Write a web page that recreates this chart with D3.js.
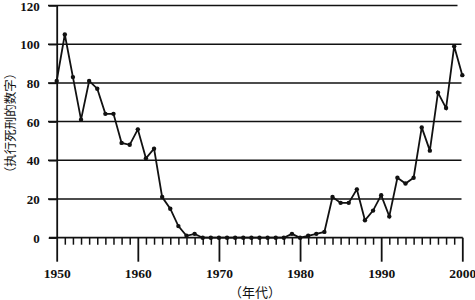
<!DOCTYPE html>
<html>
<head>
<meta charset="utf-8">
<script src="https://cdn.jsdelivr.net/npm/d3@7"></script>
<style>
  html, body { margin: 0; padding: 0; background: #fff; }
  svg { display: block; }
</style>
</head>
<body>
<script>
const years = d3.range(1950, 2001);
const executions = [81, 105, 83, 61, 81, 77, 64, 64, 49, 48,
                    56, 41, 46, 21, 15, 6, 1, 2, 0, 0,
                    0, 0, 0, 0, 0, 0, 0, 0, 0, 2,
                    0, 1, 2, 3, 21, 18, 18, 25, 9, 14,
                    22, 11, 31, 28, 31, 57, 45, 75, 67, 99,
                    84];
const yTicks = [0, 20, 40, 60, 80, 100, 120];
const xTickLabels = [1950, 1960, 1970, 1980, 1990, 2000];
const xTitle = "（年代）";
const yTitle = "（执行死刑的数字）";

const W = 475, H = 300;
const svg = d3.select("body").append("svg").attr("width", W).attr("height", H);

const x = d3.scaleLinear().domain([1950, 2000]).range([56.7, 462.3]);
const y = d3.scaleLinear().domain([0, 120]).range([237.7, 5.5]);

const ink = "#111";
const numFont = "'Liberation Serif', 'Times New Roman', serif";

// grid lines
svg.append("g").selectAll("line").data(yTicks.filter(d => d > 0)).join("line")
  .attr("x1", 48).attr("x2", d => d === 120 ? 457.5 : 461.5)
  .attr("y1", d => y(d)).attr("y2", d => y(d))
  .attr("stroke", ink).attr("stroke-width", 1.5);

// y axis
const yAxis = svg.append("g").attr("transform", `translate(${x(1950)},0)`)
  .call(d3.axisLeft(y).tickValues(yTicks).tickSize(8).tickSizeOuter(0).tickPadding(9));
yAxis.select(".domain").attr("stroke", ink).attr("stroke-width", 1.8);
yAxis.selectAll(".tick line").attr("stroke", ink).attr("stroke-width", 1.5);
yAxis.selectAll(".tick text").attr("font-family", numFont).attr("font-weight", "bold")
  .attr("font-size", 13).attr("fill", ink).attr("dy", "0.35em");

// x axis minor ticks
const xMinor = svg.append("g").attr("transform", `translate(0,${y(0)})`)
  .call(d3.axisBottom(x).tickValues(years.filter(d => d % 10 !== 0)).tickSize(7).tickSizeOuter(0).tickFormat(""));
xMinor.select(".domain").remove();
xMinor.selectAll(".tick line").attr("stroke", ink).attr("stroke-width", 1.5);

// zero baseline
svg.append("line").attr("x1", 49).attr("x2", x(2000) + 0.5)
  .attr("y1", y(0)).attr("y2", y(0)).attr("stroke", ink).attr("stroke-width", 1.8);

// x axis major ticks with labels
const xMajor = svg.append("g").attr("transform", `translate(0,${y(0)})`)
  .call(d3.axisBottom(x).tickValues(xTickLabels).tickSize(24).tickSizeOuter(0)
    .tickPadding(7).tickFormat(d3.format("d")));
xMajor.select(".domain").remove();
xMajor.selectAll(".tick line").attr("stroke", ink).attr("stroke-width", 1.8);
xMajor.selectAll(".tick text").attr("font-family", numFont).attr("font-weight", "bold")
  .attr("font-size", 13.5).attr("fill", ink);

// data line
const pts = years.map((yr, i) => [yr, executions[i]]);
svg.append("path").datum(pts)
  .attr("d", d3.line().x(d => x(d[0])).y(d => y(d[1])))
  .attr("fill", "none").attr("stroke", ink).attr("stroke-width", 1.8)
  .attr("stroke-linejoin", "miter");
svg.append("g").selectAll("circle").data(pts).join("circle")
  .attr("cx", d => x(d[0])).attr("cy", d => y(d[1])).attr("r", 2.2).attr("fill", ink);

// titles
svg.append("text").attr("x", 255).attr("y", 297).attr("text-anchor", "middle")
  .attr("font-family", "'Noto Sans CJK SC', sans-serif").attr("font-size", 13)
  .attr("fill", ink).text(xTitle);
svg.append("text").attr("transform", "translate(14.5,123) rotate(-90)").attr("text-anchor", "middle")
  .attr("font-family", "'Noto Sans CJK SC', sans-serif").attr("font-size", 12.5)
  .attr("fill", ink).text(yTitle);
</script>
</body>
</html>
